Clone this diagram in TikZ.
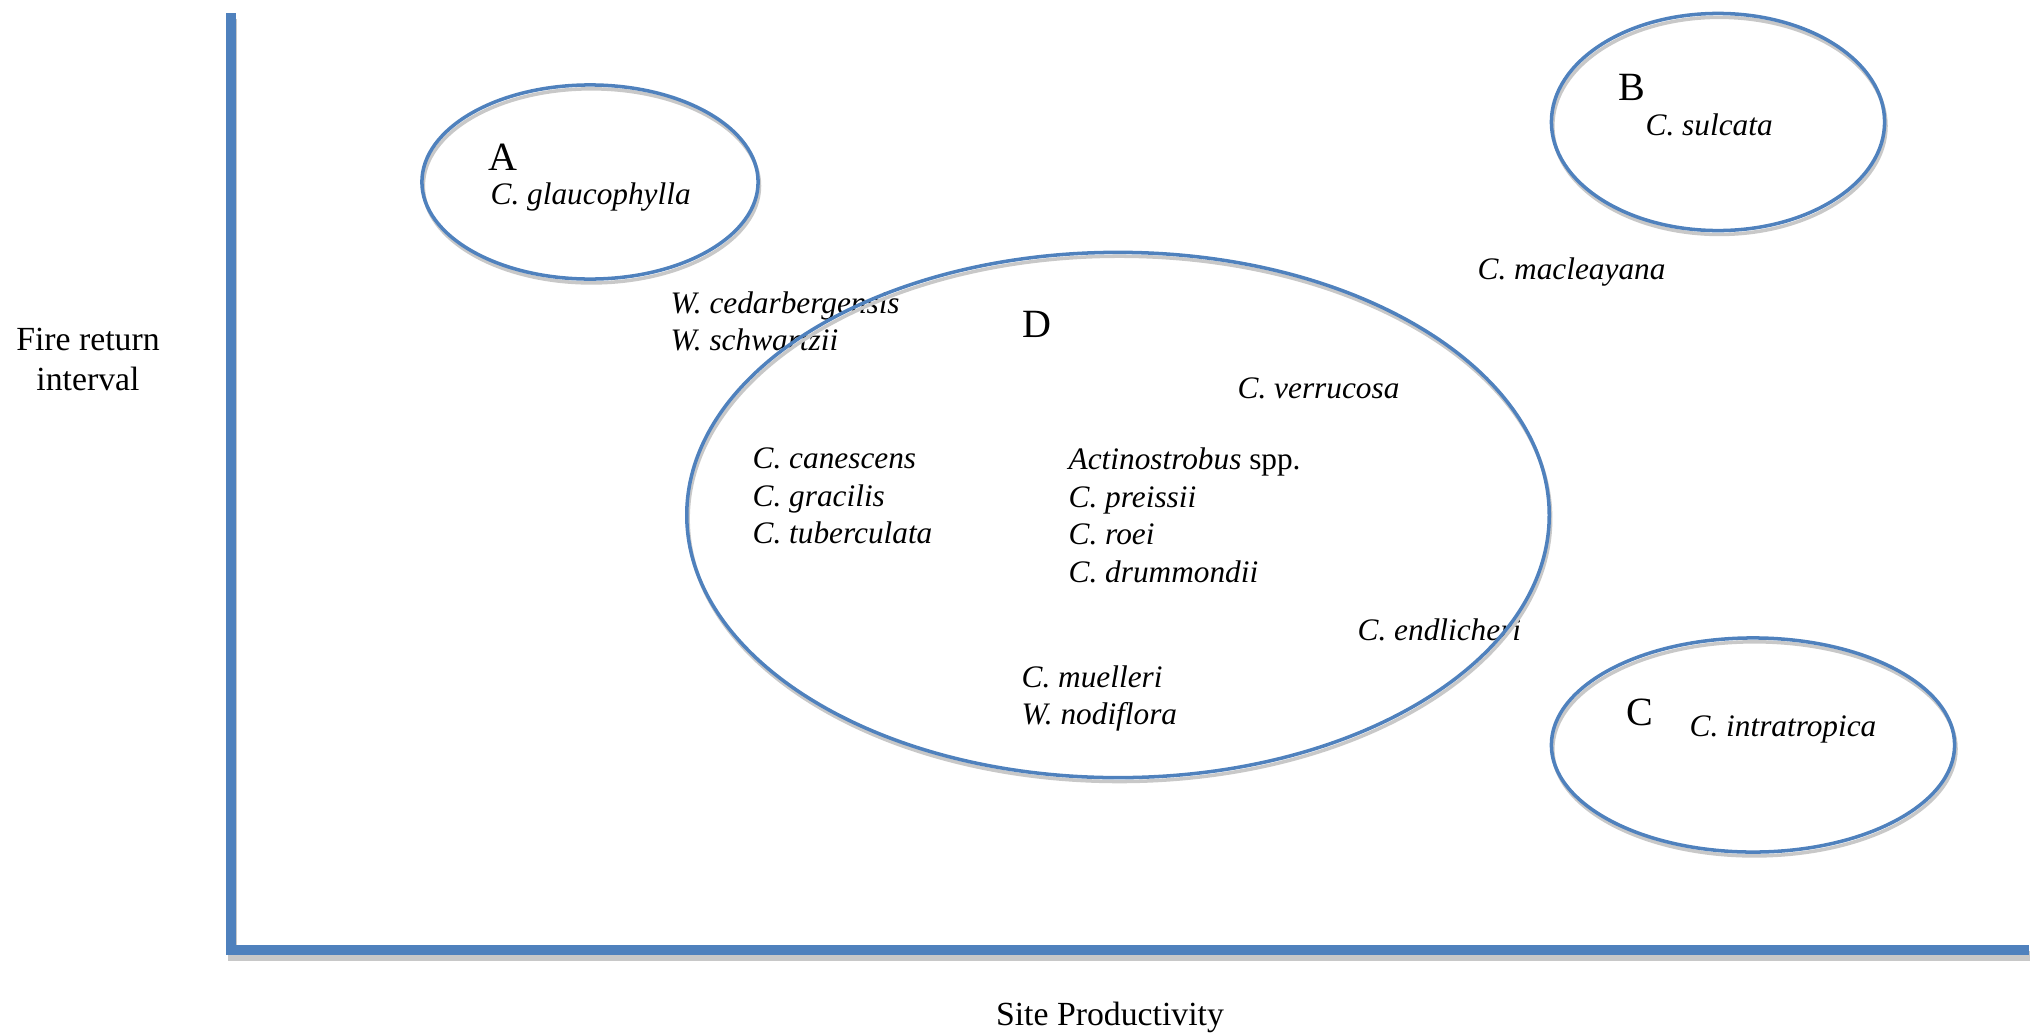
\documentclass[tikz,border=0pt]{standalone}
\usepackage{fontspec}
\setmainfont{Liberation Serif}
\usetikzlibrary{shapes.geometric}
\definecolor{wordblue}{RGB}{79,129,189}
\definecolor{shadowgray}{RGB}{200,200,200}
\tikzstyle{group} = [ellipse, draw=wordblue, line width=1pt, inner sep=0pt, preaction={draw=shadowgray, line width=1pt, transform canvas={shift={(0.4pt,-1.1pt)}}}]
\tikzstyle{axis} = [draw=wordblue, line width=2.6pt, preaction={draw=shadowgray, line width=2.6pt, transform canvas={shift={(0.4pt,-1.7pt)}}}]
\tikzstyle{letter} = [anchor=base west, inner sep=0pt, font=\fontsize{11.4}{13}\selectfont]
\tikzstyle{species} = [anchor=base west, inner sep=0pt, font=\fontsize{8.9}{10.5}\selectfont\itshape]
\tikzstyle{axislabel} = [anchor=base, inner sep=0pt, font=\fontsize{9.6}{11.5}\selectfont]

\begin{document}
\begin{tikzpicture}[x=0.01cm, y=-0.01cm]
\useasboundingbox (0,0) rectangle (2033,1033);

% axes
\coordinate (ytop) at (231,13);
\coordinate (origin) at (231,950);
\coordinate (xend) at (2029,950);
\draw [axis] (ytop) -- (origin) -- (xend);

\node (yl1) [axislabel] at (88,350) {Fire return};
\node (yl2) [axislabel] at (88,390) {interval};
\node (xl) [axislabel] at (1110,1025) {Site Productivity};

% group letters
\node (la) [letter] at (488,170) {A};
\node (lb) [letter] at (1618,100) {B};
\node (lc) [letter] at (1626,725) {C};
\node (ld) [letter] at (1022,337) {D};

% species
\node (glauc) [species] at (490,204) {C. glaucophylla};
\node (sulc) [species] at (1645,135) {C. sulcata};
\node (macl) [species] at (1477,279) {C. macleayana};
\node (intra) [species] at (1689,736) {C. intratropica};
\node (cedar) [species] at (670,313) {W. cedarbergensis};
\node (schw) [species] at (670,350) {W. schwartzii};
\node (verr) [species] at (1237,398) {C. verrucosa};
\node (cane) [species] at (752,468) {C. canescens};
\node (grac) [species] at (752,506) {C. gracilis};
\node (tube) [species] at (752,543) {C. tuberculata};
\node (actin) [species] at (1068,469) {Actinostrobus \upshape spp.};
\node (preis) [species] at (1068,507) {C. preissii};
\node (roei) [species] at (1068,544) {C. roei};
\node (drum) [species] at (1068,582) {C. drummondii};
\node (endl) [species] at (1357,640) {C. endlicheri};
\node (muel) [species] at (1021,687) {C. muelleri};
\node (nodi) [species] at (1021,724) {W. nodiflora};

% groups
\node (A) [group, minimum width=3.36cm, minimum height=1.94cm] at (590,182) {};
\node (B) [group, minimum width=3.33cm, minimum height=2.17cm] at (1718,122) {};
\node (C) [group, minimum width=4.03cm, minimum height=2.14cm] at (1753,745) {};
\node (D) [group, minimum width=8.62cm, minimum height=5.25cm] at (1118,515) {};

\end{tikzpicture}
\end{document}
